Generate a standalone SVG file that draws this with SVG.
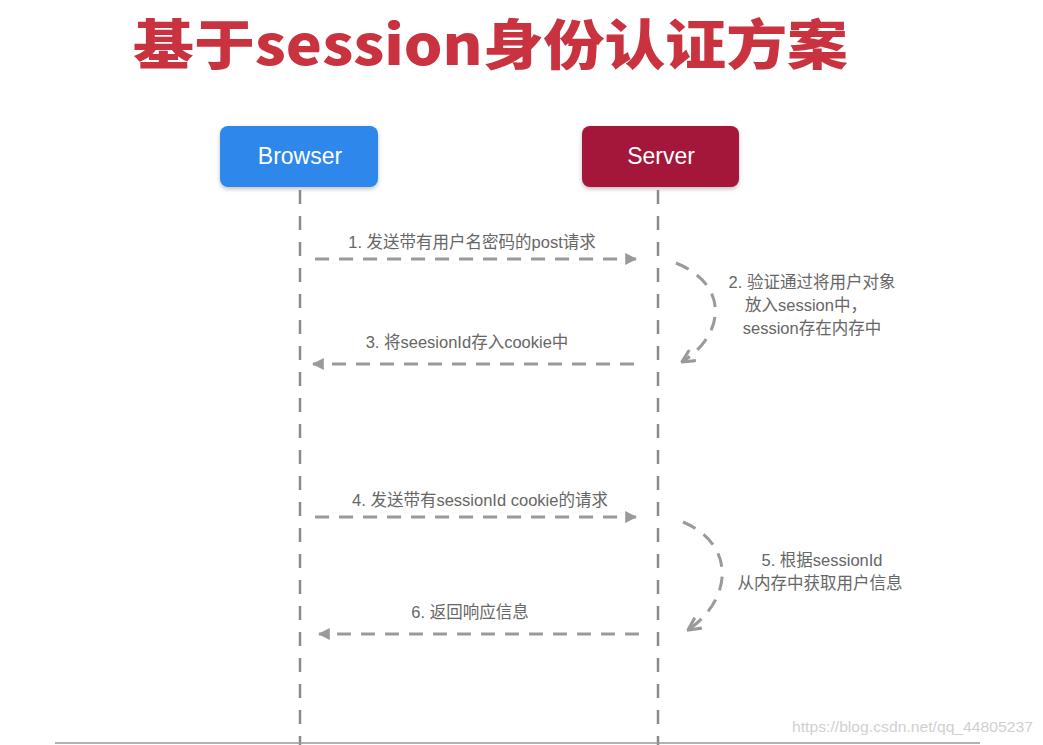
<svg xmlns="http://www.w3.org/2000/svg" width="1043" height="745" viewBox="0 0 1043 745">
<style>
.title{font-family:"Noto Sans CJK SC","Noto Sans",sans-serif;font-weight:900;font-size:54px;fill:#c9323f}
.node rect{stroke:none}
.nlabel{font-family:"Liberation Sans",Arial,sans-serif;font-size:23px;fill:#ffffff;text-anchor:middle}
.life{stroke:#8a8a8a;stroke-width:2.5;stroke-dasharray:14 12;fill:none}
.msg{stroke:#9a9a9a;stroke-width:3;stroke-dasharray:14 10;fill:none}
.lbl{font-family:"Liberation Sans","Noto Sans CJK SC",sans-serif;font-size:16.5px;fill:#666666;text-anchor:middle}
.wm{font-family:"Liberation Sans",Arial,sans-serif;font-size:14px;fill:#d0d0d0}
</style>
<defs>
<marker id="tri" viewBox="0 0 10 10" refX="9" refY="5" markerWidth="4" markerHeight="4" orient="auto" markerUnits="strokeWidth">
<path d="M0,0 L10,5 L0,10 z" fill="#9a9a9a"/>
</marker>
<marker id="chev" viewBox="0 0 12 12" refX="11" refY="6" markerWidth="5" markerHeight="5" orient="auto" markerUnits="strokeWidth">
<path d="M1,1 L11,6 L1,11" fill="none" stroke="#9a9a9a" stroke-width="2.5"/>
</marker>
<filter id="sh" x="-10%" y="-10%" width="120%" height="130%">
<feDropShadow dx="0" dy="2" stdDeviation="2" flood-color="#000" flood-opacity="0.25"/>
</filter>
</defs>
<rect width="1043" height="745" fill="#ffffff"/>
<text class="title" x="133" y="65" textLength="715" lengthAdjust="spacingAndGlyphs">基于session身份认证方案</text>

<g id="browser" class="node">
<rect x="220" y="126" width="158" height="61" rx="8" fill="#2e87ea" filter="url(#sh)"/>
<text class="nlabel" x="300" y="164">Browser</text>
</g>
<g id="server" class="node">
<rect x="582" y="126" width="157" height="61" rx="8" fill="#a5163a" filter="url(#sh)"/>
<text class="nlabel" x="661" y="164">Server</text>
</g>

<g id="connectors">
<line class="life" x1="300" y1="190" x2="300" y2="745"/>
<line class="life" x1="658" y1="190" x2="658" y2="745"/>
<line class="msg" x1="315" y1="259" x2="636" y2="259" marker-end="url(#tri)"/>
<path class="msg" d="M676,263 C730,285 725,335 682,362" marker-end="url(#chev)"/>
<line class="msg" x1="634" y1="364" x2="313" y2="364" marker-end="url(#tri)"/>
<line class="msg" x1="315" y1="517" x2="636" y2="517" marker-end="url(#tri)"/>
<path class="msg" d="M683,522 C737,545 732,600 688,630" marker-end="url(#chev)"/>
<line class="msg" x1="639" y1="634" x2="319" y2="634" marker-end="url(#tri)"/>
</g>

<g id="labels">
<text class="lbl" x="472" y="248">1. 发送带有用户名密码的post请求</text>
<text class="lbl" x="812" y="288">2. 验证通过将用户对象</text>
<text class="lbl" x="806" y="311">放入session中，</text>
<text class="lbl" x="812" y="334">session存在内存中</text>
<text class="lbl" x="467" y="348">3. 将seesionId存入cookie中</text>
<text class="lbl" x="480" y="506">4. 发送带有sessionId cookie的请求</text>
<text class="lbl" x="822" y="566">5. 根据sessionId</text>
<text class="lbl" x="820" y="589">从内存中获取用户信息</text>
<text class="lbl" x="470" y="618">6. 返回响应信息</text>
</g>

<line x1="55" y1="743" x2="980" y2="743" stroke="#999999" stroke-width="1.5"/>
<text class="wm" x="792" y="732" textLength="241" lengthAdjust="spacingAndGlyphs">https://blog.csdn.net/qq_44805237</text>
</svg>
